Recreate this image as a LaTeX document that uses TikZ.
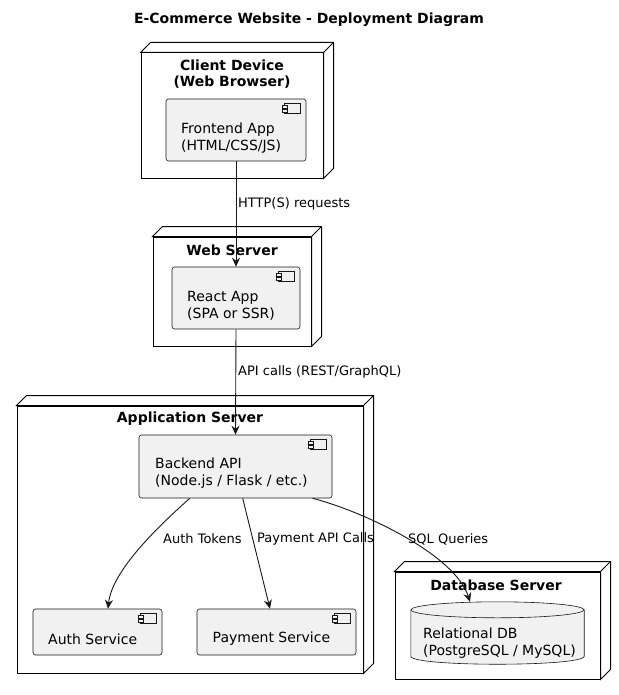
\documentclass[tikz,border=0pt]{standalone}
\usepackage{fontspec}
\setmainfont{DejaVu Sans}
\usetikzlibrary{calc,arrows.meta}

\definecolor{compfill}{HTML}{F1F1F1}
\definecolor{compline}{HTML}{181818}

\tikzset{
  depbox/.style={draw=black, line width=1pt, fill=white, inner sep=0pt},
  compbox/.style={draw=compline, line width=0.6pt, fill=compfill, rounded corners=2.5pt, inner sep=0pt},
  boxtitle/.style={font=\fontsize{14}{16.5}\selectfont\bfseries, align=center, inner sep=0pt},
  comptext/.style={font=\fontsize{14}{17}\selectfont, align=left, anchor=west, inner sep=0pt},
  edgelabel/.style={font=\fontsize{13}{15}\selectfont, anchor=west, inner sep=0pt},
  link/.style={draw=compline, line width=0.9pt, -{Stealth[length=9pt,width=8pt,inset=3pt]}},
  faces/.style={draw=black, line width=1pt, fill=white, line join=miter},
  iconpart/.style={draw=compline, line width=0.5pt, fill=compfill},
}

% top and right faces of a 3D deployment node
\newcommand\nodefaces[1]{%
  \draw[faces] (#1.north west) -- ++(10,-10) -- ($(#1.north east)+(10,-10)$)
    -- ($(#1.south east)+(10,-10)$) -- (#1.south east) -- (#1.north east) -- cycle;
  \draw[faces] (#1.north east) -- ++(10,-10);
}
% small component glyph in the upper right corner
\newcommand\compicon[1]{%
  \draw[iconpart] ($(#1.north east)+(-22,4.5)$) rectangle ($(#1.north east)+(-6,14.5)$);
  \draw[iconpart] ($(#1.north east)+(-24.5,7)$) rectangle ++(5,2.5);
  \draw[iconpart] ($(#1.north east)+(-24.5,11)$) rectangle ++(5,2.5);
}

\begin{document}
\begin{tikzpicture}[x=1pt, y=-1pt]
\useasboundingbox (0,0) rectangle (618,695);

\node[boxtitle] (title) at (309,19.5) {E-Commerce Website - Deployment Diagram};

% deployment nodes
\node[depbox, minimum width=182pt, minimum height=125pt] (client) at (232,115.5) {};
\nodefaces{client}
\node[boxtitle] (clienttitle) at (232,74) {Client Device\\(Web Browser)};

\node[depbox, minimum width=158pt, minimum height=109pt] (web) at (232,291.5) {};
\nodefaces{web}
\node[boxtitle] (webtitle) at (232,250) {Web Server};

\node[depbox, minimum width=346pt, minimum height=267pt] (appsrv) at (190,539.5) {};
\nodefaces{appsrv}
\node[boxtitle] (apptitle) at (190,419) {Application Server};

\node[depbox, minimum width=205pt, minimum height=107pt] (dbsrv) at (497.5,625.5) {};
\nodefaces{dbsrv}
\node[boxtitle] (dbtitle) at (496,585) {Database Server};

% components
\node[compbox, minimum width=140pt, minimum height=62pt] (frontend) at (236,130) {};
\compicon{frontend}
\node[comptext] (frontendtext) at (181,138.5) {Frontend App\\(HTML/CSS/JS)};

\node[compbox, minimum width=128pt, minimum height=62pt] (react) at (236,298) {};
\compicon{react}
\node[comptext] (reacttext) at (187,305.5) {React App\\(SPA or SSR)};

\node[compbox, minimum width=193pt, minimum height=63pt] (backend) at (235.5,466.5) {};
\compicon{backend}
\node[comptext] (backendtext) at (155,473.5) {Backend API\\(Node.js / Flask / etc.)};

\node[compbox, minimum width=129pt, minimum height=46pt] (auth) at (97.5,632) {};
\compicon{auth}
\node[comptext] (authtext) at (48,639) {Auth Service};

\node[compbox, minimum width=159pt, minimum height=46pt] (payment) at (276.5,632) {};
\compicon{payment}
\node[comptext] (paymenttext) at (212.5,639) {Payment Service};

% database cylinder
\node[minimum width=173pt, minimum height=62pt, inner sep=0pt] (db) at (497.5,633) {};
\draw[draw=compline, line width=0.6pt, fill=compfill]
  ($(db.north west)+(0,8)$) -- ($(db.south west)+(0,-8)$)
  .. controls ($(db.south west)+(0,2.7)$) and ($(db.south east)+(0,2.7)$) .. ($(db.south east)+(0,-8)$)
  -- ($(db.north east)+(0,8)$) -- cycle;
\draw[draw=compline, line width=0.6pt, fill=compfill] ($(db.north)+(0,8)$) ellipse [x radius=86.5pt, y radius=8pt];
\node[comptext] (dbtext) at (423,643.5) {Relational DB\\(PostgreSQL / MySQL)};

% connectors
\draw[link] (frontend.south) -- (react.north);
\node[edgelabel] (l1) at (238,204) {HTTP(S) requests};

\draw[link] (react.south) -- (backend.north);
\node[edgelabel] (l2) at (238,372) {API calls (REST/GraphQL)};

\draw[link] ($(backend.south west)+(51,0)$)
  .. controls (160,525) and (112,570) .. ($(auth.north)+(10.5,0)$);
\node[edgelabel] (l3) at (163,539) {Auth Tokens};

\draw[link] ($(backend.south west)+(104,0)$) -- ($(payment.north)+(-6.5,0)$);
\node[edgelabel] (l4) at (257,539) {Payment API Calls};

\draw[link] ($(backend.south west)+(174,0)$)
  .. controls (365,512) and (455,555) .. ($(db.north)+(-27.5,0)$);
\node[edgelabel] (l5) at (408,539) {SQL Queries};

\end{tikzpicture}
\end{document}
